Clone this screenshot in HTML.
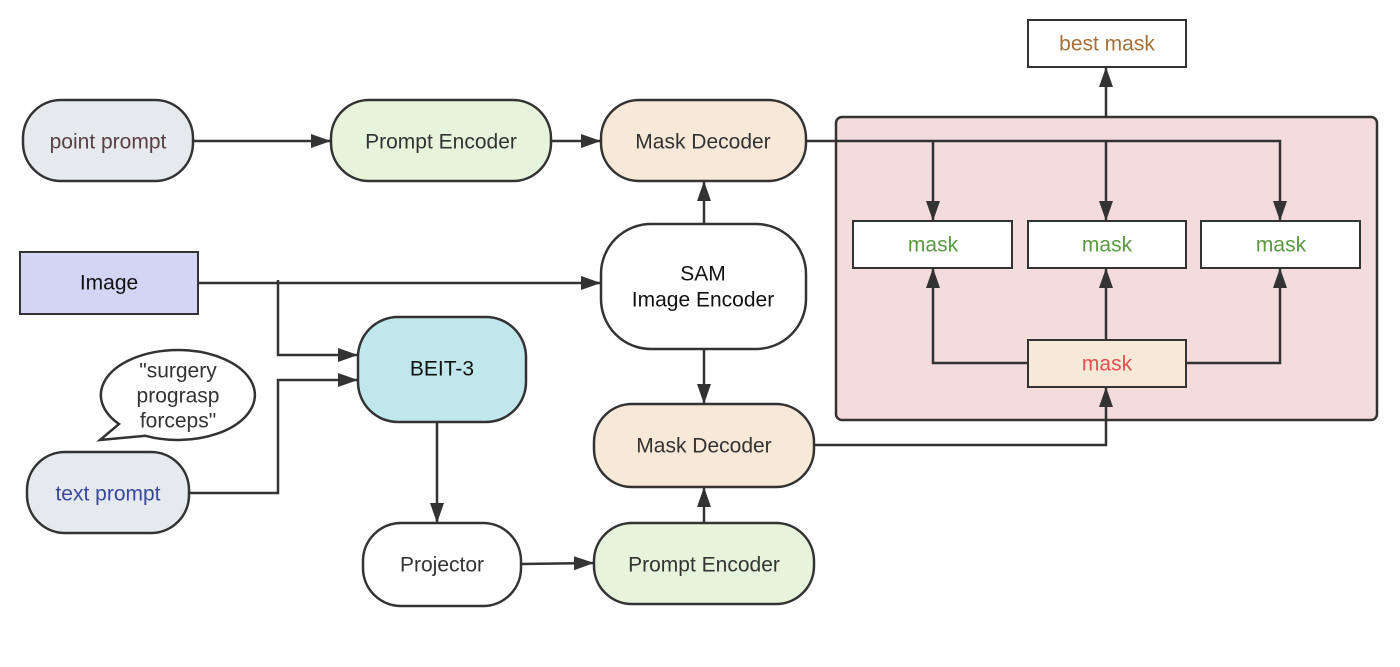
<!DOCTYPE html>
<html><head><meta charset="utf-8"><style>
html,body{margin:0;padding:0;background:#fff;}
svg text{font-family:"Liberation Sans","DejaVu Sans",sans-serif;font-size:21px;text-anchor:middle;dominant-baseline:central;}
</style></head><body>
<svg width="1400" height="662" viewBox="0 0 1400 662" xmlns="http://www.w3.org/2000/svg">
<defs>
<marker id="b" viewBox="0 0 20 14" refX="20" refY="7" markerWidth="20" markerHeight="14" markerUnits="userSpaceOnUse" orient="auto">
<path d="M0,0 L20,7 L0,14 z" fill="#333"/></marker>
</defs>
<g stroke="#333" stroke-width="2.5">
<rect x="836" y="117" width="541" height="303" rx="6" fill="#f5dcdc"/>
<rect x="23" y="100" width="170" height="81" rx="38" fill="#e6eaee"/>
<rect x="331" y="100" width="220" height="81" rx="38" fill="#e6f4dc"/>
<rect x="601" y="100" width="205" height="81" rx="38" fill="#f8e8d8"/>
<rect x="20" y="252" width="178" height="62" fill="#d3d5f5" stroke-width="2"/>
<rect x="601" y="224" width="205" height="125" rx="50" fill="#fff"/>
<rect x="358" y="317" width="168" height="105" rx="40" fill="#c0e8ec"/>
<rect x="27" y="452" width="162" height="81" rx="38" fill="#e6eaee"/>
<rect x="363" y="523" width="158" height="83" rx="38" fill="#fff"/>
<rect x="594" y="404" width="220" height="83" rx="38" fill="#f8e8d8"/>
<rect x="594" y="523" width="220" height="81" rx="38" fill="#e6f4dc"/>
<rect x="1028" y="20" width="158" height="47" fill="#fff" stroke-width="2"/>
<rect x="853" y="221" width="159" height="47" fill="#fff" stroke-width="2"/>
<rect x="1028" y="221" width="158" height="47" fill="#fff" stroke-width="2"/>
<rect x="1201" y="221" width="159" height="47" fill="#fff" stroke-width="2"/>
<rect x="1028" y="340" width="158" height="47" fill="#f8e8d8" stroke-width="2"/>
<path d="M119,424 A77,45 0 1 1 145.4,435.8 L100,440 Z" fill="#fff"/>
</g>
<g stroke="#333" stroke-width="2.5" fill="none">
<path d="M193,141 H331" marker-end="url(#b)"/>
<path d="M551,141 H601" marker-end="url(#b)"/>
<path d="M806,141 H1280 V221" marker-end="url(#b)"/>
<path d="M933,141 V221" marker-end="url(#b)"/>
<path d="M1106,141 V221" marker-end="url(#b)"/>
<path d="M1106,117 V67" marker-end="url(#b)"/>
<path d="M1106,340 V268" marker-end="url(#b)"/>
<path d="M1028,363 H933 V268" marker-end="url(#b)"/>
<path d="M1186,363 H1280 V268" marker-end="url(#b)"/>
<path d="M814,445 H1106 V387" marker-end="url(#b)"/>
<path d="M198,283 H601" marker-end="url(#b)"/>
<path d="M278,280 V355 H358" marker-end="url(#b)"/>
<path d="M189,493 H278 V380 H358" marker-end="url(#b)"/>
<path d="M437,422 V523" marker-end="url(#b)"/>
<path d="M521,564 L594,563" marker-end="url(#b)"/>
<path d="M704,523 V487" marker-end="url(#b)"/>
<path d="M704,349 V404" marker-end="url(#b)"/>
<path d="M704,224 V181" marker-end="url(#b)"/>
</g>
<text x="108" y="142" fill="#5a4040">point prompt</text>
<text x="441" y="142" fill="#333">Prompt Encoder</text>
<text x="703" y="142" fill="#333">Mask Decoder</text>
<text x="109" y="283" fill="#111">Image</text>
<text x="703" y="274" fill="#111">SAM</text>
<text x="703" y="300" fill="#111">Image Encoder</text>
<text x="442" y="369" fill="#111">BEIT-3</text>
<text x="178" y="371" fill="#333">"surgery</text>
<text x="178" y="396" fill="#333">prograsp</text>
<text x="178" y="421" fill="#333">forceps"</text>
<text x="108" y="494" fill="#3848a0">text prompt</text>
<text x="442" y="565" fill="#333">Projector</text>
<text x="704" y="446" fill="#333">Mask Decoder</text>
<text x="704" y="565" fill="#333">Prompt Encoder</text>
<text x="1107" y="44" fill="#a87038">best mask</text>
<text x="933" y="245" fill="#5a9a40">mask</text>
<text x="1107" y="245" fill="#5a9a40">mask</text>
<text x="1281" y="245" fill="#5a9a40">mask</text>
<text x="1107" y="364" fill="#e05050">mask</text>
</svg>
</body></html>
